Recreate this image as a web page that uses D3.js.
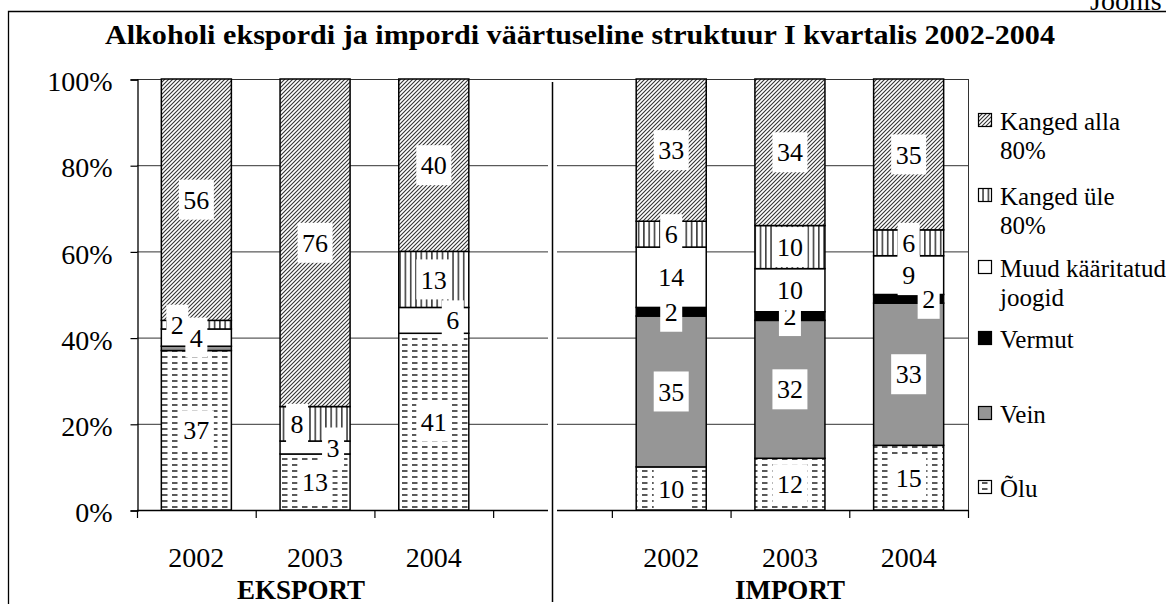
<!DOCTYPE html>
<html>
<head>
<meta charset="utf-8">
<script src="https://cdn.jsdelivr.net/npm/d3@7"></script>
<style>
  html, body { margin: 0; padding: 0; background: #fff; }
  svg { display: block; }
  svg text { font-family: "Liberation Serif", "Times New Roman", Times, "DejaVu Serif", serif; fill: #000; }
</style>
</head>
<body>
<svg id="chart" width="1166" height="604"></svg>
<script>
// ---------- data ----------
const title = "Alkoholi ekspordi ja impordi väärtuseline struktuur I kvartalis 2002-2004";
const groups = ["EKSPORT", "IMPORT"];
const years = ["2002", "2003", "2004"];
// slots: three export years, an empty slot, three import years
const slotKeys = ["E2002", "E2003", "E2004", "gap", "I2002", "I2003", "I2004"];
const slotLabels = ["2002", "2003", "2004", "", "2002", "2003", "2004"];
const barKeys = ["E2002", "E2003", "E2004", "I2002", "I2003", "I2004"];

const seriesNames = ["Õlu", "Vein", "Vermut", "Muud kääritatud joogid", "Kanged üle 80%", "Kanged alla 80%"];
const olu        = [37, 13, 41, 10, 12, 15];
const vein       = [ 1,  0,  0, 35, 32, 33];
const vermut     = [ 0,  0,  0,  2,  2,  2];
const muud       = [ 4,  3,  6, 14, 10,  9];
const kangedUle  = [ 2,  8, 13,  6, 10,  6];
const kangedAlla = [56, 76, 40, 33, 34, 35];
const seriesValues = [olu, vein, vermut, muud, kangedUle, kangedAlla];

const yTicks = [0, 20, 40, 60, 80, 100];
const legendLines = [
  ["Kanged alla", "80%"],
  ["Kanged üle", "80%"],
  ["Muud kääritatud", "joogid"],
  ["Vermut"],
  ["Vein"],
  ["Õlu"]
];

// ---------- layout ----------
const FONT = "'Liberation Serif', 'Times New Roman', Times, 'DejaVu Serif', serif";
const svg = d3.select("#chart").attr("font-family", FONT);
const plot = { left: 137, right: 968, top: 79, bottom: 510 };

const x = d3.scaleBand().domain(slotKeys).range([plot.left, plot.right])
  .paddingInner(0.41).paddingOuter(0.205);
const y = d3.scaleLinear().domain([0, 100]).range([plot.bottom, plot.top]);

// patterns
const defs = svg.append("defs");
const pHatch = defs.append("pattern").attr("id", "pHatch").attr("patternUnits", "userSpaceOnUse")
  .attr("width", 4).attr("height", 4);
pHatch.append("rect").attr("width", 4).attr("height", 4).attr("fill", "#fff");
pHatch.append("path").attr("d", "M-1,1 L1,-1 M0,4 L4,0 M3,5 L5,3")
  .attr("stroke", "#333").attr("stroke-width", 1.1);

const pVert = defs.append("pattern").attr("id", "pVert").attr("patternUnits", "userSpaceOnUse")
  .attr("width", 5.3).attr("height", 10);
pVert.append("rect").attr("width", 5.3).attr("height", 10).attr("fill", "#fff");
pVert.append("line").attr("x1", 2.6).attr("x2", 2.6).attr("y1", 0).attr("y2", 10)
  .attr("stroke", "#000").attr("stroke-width", 1.2);

const pDash = defs.append("pattern").attr("id", "pDash").attr("patternUnits", "userSpaceOnUse")
  .attr("width", 10).attr("height", 6);
pDash.append("rect").attr("width", 10).attr("height", 6).attr("fill", "#fff");
pDash.append("line").attr("x1", 2).attr("x2", 7.5).attr("y1", 3).attr("y2", 3)
  .attr("stroke", "#000").attr("stroke-width", 1.3);

const fills = ["url(#pDash)", "#969696", "#000", "#fff", "url(#pVert)", "url(#pHatch)"];

// outer chart border
svg.append("path").attr("d", "M8.5,604 L8.5,11.5 L1166,11.5")
  .attr("fill", "none").attr("stroke", "#000").attr("stroke-width", 1.3);
svg.append("text").attr("x", 1090).attr("y", 10).attr("font-size", 28).text("Joonis");

// title
svg.append("text").attr("x", 580).attr("y", 44).attr("text-anchor", "middle")
  .attr("font-size", 27).attr("font-weight", "bold")
  .attr("textLength", 950).attr("lengthAdjust", "spacingAndGlyphs").text(title);

// gridlines
svg.append("g").selectAll("line").data(yTicks.filter(d => d > 0)).join("line")
  .attr("x1", plot.left).attr("x2", plot.right)
  .attr("y1", d => y(d) + 0.5).attr("y2", d => y(d) + 0.5)
  .attr("stroke", "#333").attr("stroke-width", 1);
// plot right border
svg.append("line").attr("x1", plot.right + 0.5).attr("x2", plot.right + 0.5)
  .attr("y1", plot.top).attr("y2", plot.bottom).attr("stroke", "#333").attr("stroke-width", 1);

// y axis
const yAxis = d3.axisLeft(y).tickValues(yTicks).tickFormat(d => d + "%").tickSize(7).tickPadding(18);
const gy = svg.append("g").attr("transform", `translate(${plot.left + 0.5},0.5)`).call(yAxis)
  .attr("font-family", FONT).attr("font-size", 28);
gy.select(".domain").attr("stroke", "#000").attr("stroke-width", 1.3);
gy.selectAll(".tick line").attr("stroke", "#000").attr("stroke-width", 1.2);
gy.selectAll(".tick text").attr("font-size", 28).attr("font-family", FONT)
  .attr("fill", "#000").attr("dy", "0.4em");

// x axis: ticks at category boundaries
const step = x.step();
const boundaries = d3.range(slotKeys.length + 1).map(i => plot.left + i * step);
svg.append("line").attr("x1", plot.left).attr("x2", plot.right)
  .attr("y1", plot.bottom + 0.5).attr("y2", plot.bottom + 0.5)
  .attr("stroke", "#000").attr("stroke-width", 1.3);
svg.append("g").selectAll("line").data(boundaries).join("line")
  .attr("x1", d => d + 0.5).attr("x2", d => d + 0.5)
  .attr("y1", plot.bottom).attr("y2", plot.bottom + 8)
  .attr("stroke", "#000").attr("stroke-width", 1.2);
svg.append("g").selectAll("text").data(slotKeys).join("text")
  .attr("x", d => x(d) + x.bandwidth() / 2).attr("y", 567)
  .attr("text-anchor", "middle").attr("font-size", 28)
  .text((d, i) => slotLabels[i]);
// group labels
svg.append("g").selectAll("text").data(groups).join("text")
  .attr("x", (d, i) => x(i === 0 ? "E2003" : "I2003") + x.bandwidth() / 2 - (i === 0 ? 14 : 0))
  .attr("y", 599).attr("text-anchor", "middle").attr("font-size", 27).attr("font-weight", "bold")
  .text(d => d);

// stacked bars
const table = barKeys.map((k, i) => {
  const row = { key: k };
  seriesNames.forEach((s, j) => row[s] = seriesValues[j][i]);
  return row;
});
const stacked = d3.stack().keys(seriesNames)(table);

const gBars = svg.append("g");
stacked.forEach((layer, si) => {
  gBars.append("g").selectAll("rect").data(layer.filter(d => d[1] - d[0] > 0)).join("rect")
    .attr("x", d => x(d.data.key))
    .attr("width", x.bandwidth())
    .attr("y", d => y(d[1]))
    .attr("height", d => y(d[0]) - y(d[1]))
    .attr("fill", fills[si])
    .attr("stroke", "#000").attr("stroke-width", 1.5);
});

// divider between export and import
const divX = x("gap") + x.bandwidth() / 2;
svg.append("rect").attr("x", divX - 4.5).attr("y", 81).attr("width", 9).attr("height", 523).attr("fill", "#fff");
svg.append("line").attr("x1", divX).attr("x2", divX).attr("y1", 82).attr("y2", 602)
  .attr("stroke", "#000").attr("stroke-width", 1.5);

// data labels (a few nudged sideways as in the original)
const nudge = { "Kanged üle 80%|E2002": -19, "Muud kääritatud joogid|E2003": 18,
  "Kanged üle 80%|E2003": -18, "Muud kääritatud joogid|E2004": 19, "Vermut|I2004": 20 };
const gLab = svg.append("g");
stacked.forEach((layer, si) => {
  layer.forEach(d => {
    const v = d[1] - d[0];
    if (v < 2) return;
    const cx = x(d.data.key) + x.bandwidth() / 2 + (nudge[layer.key + "|" + d.data.key] || 0);
    const cy = y((d[0] + d[1]) / 2);
    const txt = String(v);
    const w = txt.length * 13 + 9;
    const h = 40;
    gLab.append("rect").attr("x", cx - w / 2).attr("y", cy - h / 2).attr("width", w).attr("height", h)
      .attr("fill", "#fff");
    gLab.append("text").attr("x", cx).attr("y", cy).attr("dy", "0.35em")
      .attr("text-anchor", "middle").attr("font-size", 26).text(txt);
  });
});

// legend
const legendSeriesIdx = [5, 4, 3, 2, 1, 0];
const legendBase = [130, 205, 277, 348, 423, 497];
const gLeg = svg.append("g");
legendSeriesIdx.forEach((si, i) => {
  const by = legendBase[i];
  gLeg.append("rect").attr("x", 978.5).attr("y", by - 16.5).attr("width", 13).attr("height", 13)
    .attr("fill", fills[si]).attr("stroke", "#000").attr("stroke-width", 1.2);
  legendLines[i].forEach((ln, li) => {
    gLeg.append("text").attr("x", 1000).attr("y", by + li * 29).attr("font-size", 25).text(ln);
  });
});
</script>
</body>
</html>
